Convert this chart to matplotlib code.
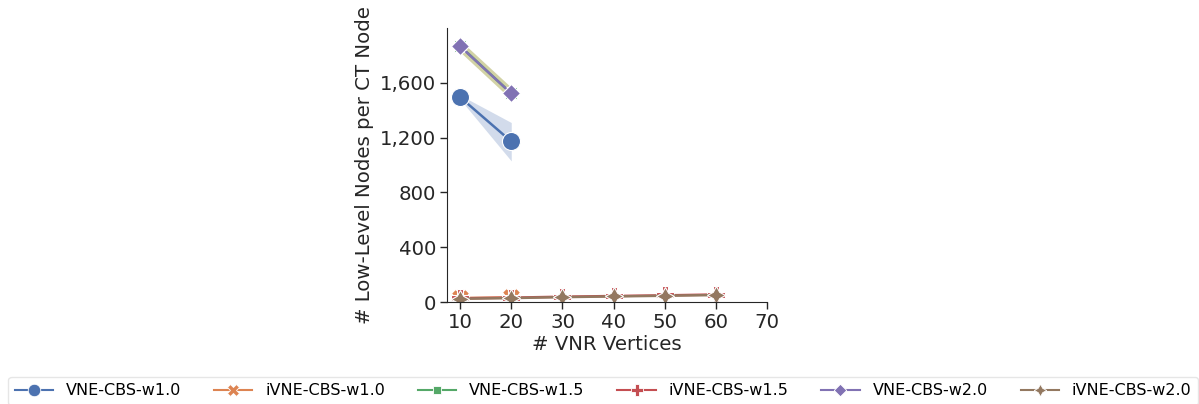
import matplotlib
matplotlib.use("Agg")
from matplotlib import pyplot as plt
from matplotlib.ticker import FuncFormatter
import numpy as np

# data
labels = ["VNE-CBS-w1.0", "iVNE-CBS-w1.0", "VNE-CBS-w1.5",
          "iVNE-CBS-w1.5", "VNE-CBS-w2.0", "iVNE-CBS-w2.0"]
x_vne = [10, 20]
x_ivne = [10, 20, 30, 40, 50, 60]

vne_w10 = [1495, 1172]
vne_w10_lo = [1480, 1030]
vne_w10_hi = [1510, 1310]

ivne_w10 = [30, 35]
vne_w15 = [1868, 1522]
vne_w15_lo = [1825, 1478]
vne_w15_hi = [1910, 1566]
ivne_w15 = [28, 33, 40, 45, 50, 56]
vne_w20 = [1866, 1522]
ivne_w20 = [25, 30, 37, 42, 47, 52]

colors = ["#4C72B0", "#DD8452", "#55A868", "#C44E52", "#8172B3", "#937860"]
markers = ["o", "X", (4, 0, 45), "P", (4, 0, 0), (4, 1, 0)]

plt.rcParams["font.family"] = "DejaVu Sans"
fig = plt.figure(figsize=(11.99, 4.04), dpi=100)
ax = fig.add_axes([0.373, 0.252, 0.267, 0.679])

# confidence bands
ax.fill_between(x_vne, vne_w10_lo, vne_w10_hi, color=colors[0], alpha=0.25, lw=0)
ax.fill_between(x_vne, vne_w15_lo, vne_w15_hi, color="#B5B56A", alpha=0.6, lw=0)

series = [(x_vne, vne_w10), (x_vne, ivne_w10), (x_vne, vne_w15),
          (x_ivne, ivne_w15), (x_vne, vne_w20), (x_ivne, ivne_w20)]
for (xs, ys), c, m, lab in zip(series, colors, markers, labels):
    ax.plot(xs, ys, color=c, marker=m, markersize=13, lw=1.8,
            markeredgecolor="white", markeredgewidth=0.8, label=lab)

ax.set_xlim(7.5, 70)
ax.set_ylim(0, 2000)
ax.set_xticks([10, 20, 30, 40, 50, 60, 70])
ax.set_yticks([0, 400, 800, 1200, 1600])
ax.yaxis.set_major_formatter(FuncFormatter(lambda v, p: f"{int(v):,}"))
ax.set_xlabel("# VNR Vertices", fontsize=14.2, color="#262626", labelpad=2)
ax.set_ylabel("# Low-Level Nodes per CT Node", fontsize=14.2, color="#262626", labelpad=4)
ax.tick_params(labelsize=14.2, colors="#262626", length=5, width=1, pad=3)
for s in ["top", "right"]:
    ax.spines[s].set_visible(False)
for s in ["left", "bottom"]:
    ax.spines[s].set_color("#262626")

leg_handles = []
for c, m, lab in zip(colors, markers, labels):
    h, = ax.plot([], [], color=c, marker=m, markersize=9, lw=1.5,
                 markeredgecolor="white", markeredgewidth=0.6, label=lab)
    leg_handles.append(h)
fig.legend(handles=leg_handles, loc="upper center", ncol=6,
           bbox_to_anchor=(0.007, -0.02, 0.992, 0.087), mode="expand",
           fontsize=11.5, frameon=True, edgecolor="#e0e0e0", fancybox=True,
           handlelength=2.4, borderaxespad=0)

fig.savefig("out.png", dpi=100)
